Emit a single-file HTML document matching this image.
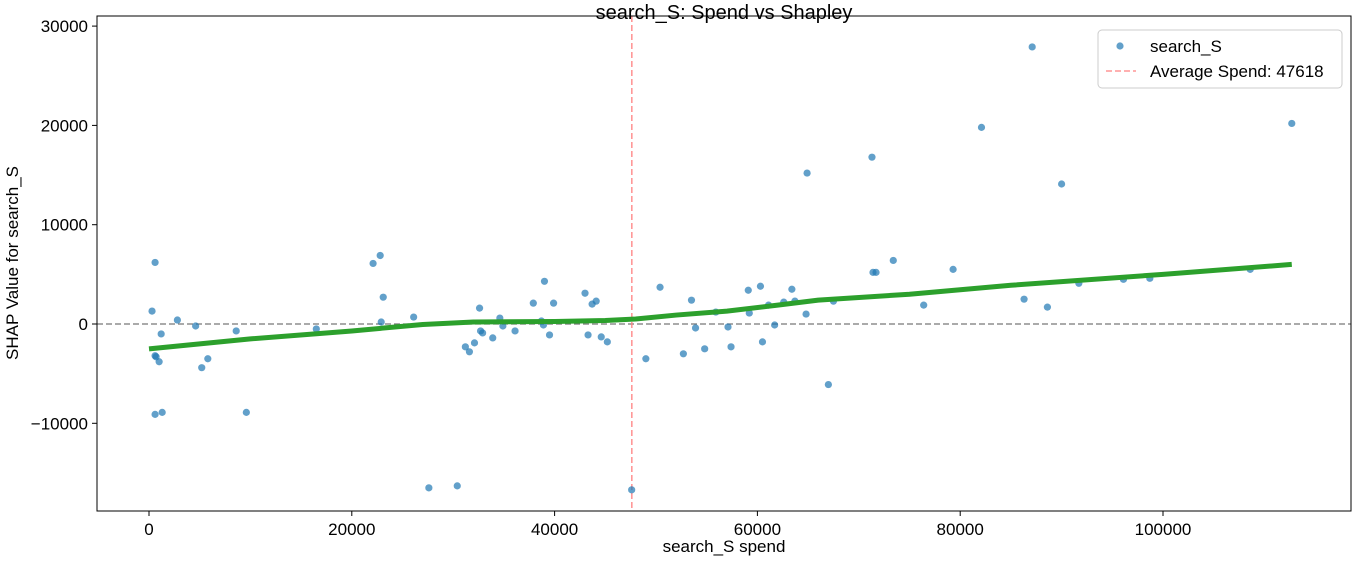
<!DOCTYPE html>
<html><head><meta charset="utf-8"><style>
body{margin:0;background:#fff;font-family:"Liberation Sans",sans-serif}
svg text{font-family:"Liberation Sans",sans-serif}
</style></head><body>
<svg id="chart" width="1354" height="560" xmlns="http://www.w3.org/2000/svg">
<g id="grid"></g>
<g id="marks"></g>
<g id="axes"></g>
</svg>
<script>
const spend=[300,600,600,700,1200,1000,600,1300,2800,4600,5200,5800,8600,9600,16500,22100,22800,23100,22900,26100,27600,30400,31200,31600,32100,32600,32700,32900,33900,34600,34900,36100,37900,39000,38700,38900,39500,39900,43000,43300,43700,44100,44600,45200,47600,49000,50400,52700,53500,53900,54800,55900,57100,57400,59100,59200,60300,60500,61100,61700,62600,63400,63700,64800,64900,67000,67500,71300,71400,71700,73400,76400,79300,82100,86300,87100,88600,90000,91700,96100,98700,108600,112700];
const shap=[1300,6200,-3200,-3300,-1000,-3800,-9100,-8900,400,-200,-4400,-3500,-700,-8900,-500,6100,6900,2700,200,700,-16500,-16300,-2300,-2800,-1900,1600,-700,-900,-1400,600,-200,-700,2100,4300,300,-100,-1100,2100,3100,-1100,2000,2300,-1300,-1800,-16700,-3500,3700,-3000,2400,-400,-2500,1200,-300,-2300,3400,1100,3800,-1800,1900,-100,2200,3500,2300,1000,15200,-6100,2300,16800,5200,5200,6400,1900,5500,19800,2500,27900,1700,14100,4100,4500,4600,5500,20200];
const trendX=[0,10000,20000,27000,32000,40000,45000,48000,52000,57000,62000,66000,75000,85000,100000,112700];
const trendY=[-2500,-1500,-700,-50,200,250,350,500,900,1300,1900,2400,3000,3900,5000,6000];
const xTicks=[0,20000,40000,60000,80000,100000];
const yTicks=[-10000,0,10000,20000,30000];
const avgSpend=47618;
const L=97,R=1351,T=16,B=511;
const xs=v=>149+v*0.01014;
const ys=v=>324-v*0.00993;
const NS="http://www.w3.org/2000/svg";
const svg=document.getElementById('chart');
function el(tag,attrs,parent,text){const e=document.createElementNS(NS,tag);for(const k in attrs)e.setAttribute(k,attrs[k]);if(text!==undefined)e.textContent=text;(parent||svg).appendChild(e);return e;}
const marks=document.getElementById('marks'),axes=document.getElementById('axes');
let e=el('line',{x1:L,x2:R,y1:ys(0),y2:ys(0),stroke:'#777','stroke-dasharray':'6,3','stroke-width':1.3},marks);


e=el('line',{x1:xs(avgSpend),x2:xs(avgSpend),y1:T,y2:B,stroke:'#ff8080','stroke-dasharray':'6,3','stroke-width':1.3},marks);


spend.forEach((v,i)=>{const c=el('circle',{cx:xs(v),cy:ys(shap[i]),r:3.6,fill:'#1f77b4','fill-opacity':0.7},marks);

});
e=el('polyline',{points:trendX.map((v,i)=>xs(v)+','+ys(trendY[i])).join(' '),fill:'none',stroke:'#2ca02c','stroke-width':5,'stroke-linejoin':'round'},marks);


e=el('rect',{x:L,y:T,width:R-L,height:B-T,fill:'none',stroke:'#000','stroke-width':1},axes);


xTicks.forEach(v=>{el('line',{x1:xs(v),x2:xs(v),y1:B,y2:B+5,stroke:'#000'},axes);
const t=el('text',{x:xs(v),y:B+24,'text-anchor':'middle','font-size':17},axes,String(v));

});
yTicks.forEach(v=>{el('line',{x1:L-5,x2:L,y1:ys(v),y2:ys(v),stroke:'#000'},axes);
const t=el('text',{x:L-9,y:ys(v)+6,'text-anchor':'end','font-size':17},axes,v<0?'\u2212'+(-v):String(v));

});
e=el('text',{x:724,y:19,'text-anchor':'middle','font-size':20},axes,'search_S: Spend vs Shapley');


e=el('text',{x:724,y:552,'text-anchor':'middle','font-size':17},axes,'search_S spend');


e=el('text',{x:0,y:0,'text-anchor':'middle','font-size':17,transform:'translate(18,263) rotate(-90)'},axes,'SHAP Value for search_S');


const lg=el('g',{},axes);


el('rect',{x:1098,y:30,width:244,height:58,rx:4,fill:'#fff',stroke:'#ccc'},lg);
el('circle',{cx:1120,cy:46,r:3.6,fill:'#1f77b4','fill-opacity':0.7},lg);
e=el('text',{x:1150,y:52,'font-size':17},lg,'search_S');


el('line',{x1:1106,x2:1136,y1:71,y2:71,stroke:'#ff8080','stroke-dasharray':'6,3','stroke-width':1.3},lg);
e=el('text',{x:1150,y:77,'font-size':17},lg,'Average Spend: '+avgSpend);


</script>
</body></html>
